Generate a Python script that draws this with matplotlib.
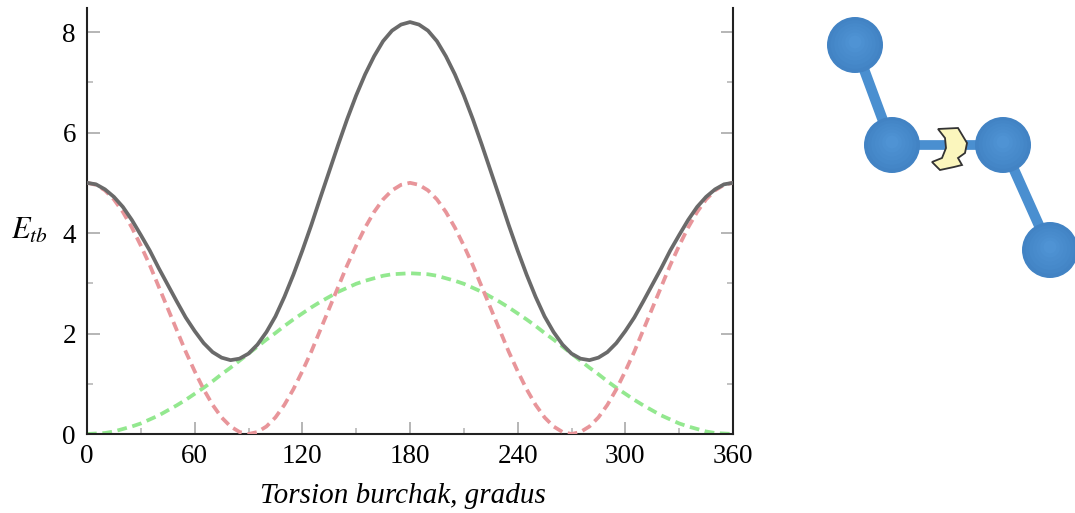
import matplotlib
matplotlib.use("Agg")
import matplotlib.pyplot as plt
from matplotlib.patches import Circle, Polygon

plt.rcParams["font.family"] = ["Liberation Serif", "DejaVu Serif"]

W, H = 1075, 513

angle = [0, 5, 10, 15, 20, 25, 30, 35, 40, 45, 50, 55, 60, 65, 70, 75, 80, 85, 90,
         95, 100, 105, 110, 115, 120, 125, 130, 135, 140, 145, 150, 155, 160, 165, 170, 175, 180,
         185, 190, 195, 200, 205, 210, 215, 220, 225, 230, 235, 240, 245, 250, 255, 260, 265, 270,
         275, 280, 285, 290, 295, 300, 305, 310, 315, 320, 325, 330, 335, 340, 345, 350, 355, 360]
total = [5.0, 4.97, 4.87, 4.72, 4.52, 4.26, 3.96, 3.65, 3.30, 2.97, 2.64, 2.32, 2.05, 1.81, 1.63, 1.52, 1.47, 1.50, 1.60,
         1.78, 2.03, 2.34, 2.73, 3.17, 3.65, 4.16, 4.70, 5.23, 5.76, 6.27, 6.74, 7.16, 7.52, 7.82, 8.03, 8.15, 8.2,
         8.15, 8.03, 7.82, 7.52, 7.16, 6.74, 6.27, 5.76, 5.23, 4.70, 4.16, 3.65, 3.17, 2.73, 2.34, 2.03, 1.78, 1.60,
         1.50, 1.47, 1.52, 1.63, 1.81, 2.05, 2.32, 2.64, 2.97, 3.30, 3.65, 3.96, 4.26, 4.52, 4.72, 4.87, 4.97, 5.0]
red = [5.0, 4.96, 4.85, 4.67, 4.42, 4.11, 3.75, 3.36, 2.93, 2.50, 2.07, 1.64, 1.25, 0.89, 0.58, 0.33, 0.15, 0.04, 0.0,
       0.04, 0.15, 0.33, 0.58, 0.89, 1.25, 1.64, 2.07, 2.50, 2.93, 3.36, 3.75, 4.11, 4.42, 4.67, 4.85, 4.96, 5.0,
       4.96, 4.85, 4.67, 4.42, 4.11, 3.75, 3.36, 2.93, 2.50, 2.07, 1.64, 1.25, 0.89, 0.58, 0.33, 0.15, 0.04, 0.0,
       0.04, 0.15, 0.33, 0.58, 0.89, 1.25, 1.64, 2.07, 2.50, 2.93, 3.36, 3.75, 4.11, 4.42, 4.67, 4.85, 4.96, 5.0]
green = [0.0, 0.01, 0.02, 0.05, 0.10, 0.15, 0.21, 0.29, 0.37, 0.47, 0.57, 0.68, 0.80, 0.92, 1.05, 1.19, 1.32, 1.46, 1.60,
         1.74, 1.88, 2.01, 2.15, 2.28, 2.40, 2.52, 2.63, 2.73, 2.83, 2.91, 2.99, 3.05, 3.10, 3.15, 3.18, 3.19, 3.2,
         3.19, 3.18, 3.15, 3.10, 3.05, 2.99, 2.91, 2.83, 2.73, 2.63, 2.52, 2.40, 2.28, 2.15, 2.01, 1.88, 1.74, 1.60,
         1.46, 1.32, 1.19, 1.05, 0.92, 0.80, 0.68, 0.57, 0.47, 0.37, 0.29, 0.21, 0.15, 0.10, 0.05, 0.02, 0.01, 0.0]
xticks = [0, 60, 120, 180, 240, 300, 360]
xminor = [30, 90, 150, 210, 270, 330]
yticks = [0, 2, 4, 6, 8]
yminor = [1, 3, 5, 7]

fig = plt.figure(figsize=(W / 100, H / 100), dpi=100)

# main plot, placed by pixel edges
left, right, top, bottom = 87, 733, 8, 434
ax = fig.add_axes([left / W, 1 - bottom / H, (right - left) / W, (bottom - top) / H])
ax.plot(angle, green, color="#93e88f", lw=2.7, ls=(0, (2.6, 1.5)), zorder=2)
ax.plot(angle, red, color="#e8959a", lw=2.7, ls=(0, (2.6, 1.5)), zorder=3)
ax.plot(angle, total, color="#6a6a6a", lw=2.7, zorder=4)
ax.set_xlim(0, 360)
ax.set_ylim(0, 8.48)
ax.spines["top"].set_visible(False)
for side in ["left", "right", "bottom"]:
    ax.spines[side].set_linewidth(1.5)
    ax.spines[side].set_color("#222222")

ax.set_xticks(xticks)
ax.set_yticks(yticks)
ax.set_xticks(xminor, minor=True)
ax.set_yticks(yminor, minor=True)
ax.tick_params(axis="both", which="major", direction="in", length=9, width=1.4, color="#b5b5b5",
               labelsize=19.5, top=False, right=True)
ax.tick_params(axis="both", which="minor", direction="in", length=4.5, width=1.3, color="#bdbdbd",
               top=False, right=True)
ax.tick_params(axis="x", which="major", pad=7)
ax.tick_params(axis="y", which="major", pad=8)

# overlay in pixel coordinates for the axis labels and the molecule
ov = fig.add_axes([0, 0, 1, 1])
ov.set_xlim(0, W)
ov.set_ylim(H, 0)
ov.axis("off")
ov.patch.set_alpha(0)
ov.text(11, 239, "$\\mathit{E}_{\\mathit{tb}}$", fontsize=22, math_fontfamily="stix", va="baseline")
ov.text(403, 503, "Torsion burchak, gradus", fontsize=21, style="italic", ha="center", va="baseline")

atoms_x = [855, 892, 1003, 1050]
atoms_y = [45, 145, 145, 250]
bond = "#4a8fd0"
for i in [0, 2]:
    ov.plot(atoms_x[i:i + 2], atoms_y[i:i + 2], color=bond, lw=7.5, solid_capstyle="butt", zorder=2)
ov.plot(atoms_x[1:3], atoms_y[1:3], color=bond, lw=7, solid_capstyle="butt", zorder=2)

shades = ["#4283c4", "#4486c7", "#4689ca", "#488bcc", "#4a8dce", "#4c90d1", "#4f93d4"]
for ax_x, ax_y in zip(atoms_x, atoms_y):
    for k, shade in enumerate(shades):
        r = 28 - k * 3.6
        ov.add_patch(Circle((ax_x, ax_y - k * 0.5), r, color=shade, lw=0, zorder=3))

crescent_x = [938, 958, 967, 965, 958, 962, 954, 940, 932, 942, 946, 945]
crescent_y = [129, 128, 143, 153, 158, 165, 167, 170, 162, 158, 148, 138]
ov.add_patch(Polygon(list(zip(crescent_x, crescent_y)), closed=True, facecolor="#fbf6bd",
                     edgecolor="#333333", lw=1.3, zorder=4))

fig.savefig("out.png", dpi=100)
